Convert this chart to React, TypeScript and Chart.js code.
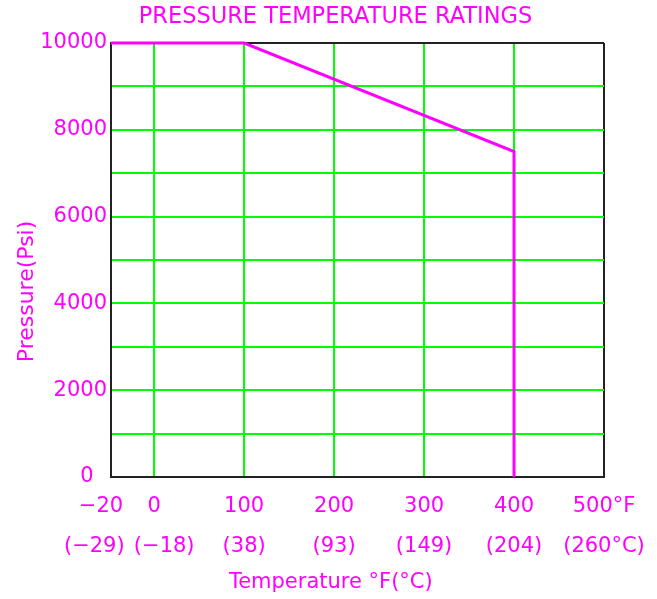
import React, { useEffect, useRef } from 'react';
import { Chart, registerables, LinearScale } from 'chart.js';

// ---- data ----
const chartTitle = 'PRESSURE TEMPERATURE RATINGS';
const yAxisTitle = 'Pressure(Psi)';
const xAxisTitle = 'Temperature °F(°C)';
const tempTicksF = [-20, 0, 100, 200, 300, 400, 500];
const tickLabelsF = ['−20', '0', '100', '200', '300', '400', '500°F'];
const tickLabelsC = ['(−29)', '(−18)', '(38)', '(93)', '(149)', '(204)', '(260°C)'];
const pressureMin = 0;
const pressureMax = 10000;
const pressureStep = 1000;
const pressureLabelEvery = 2000;
const ratingTempF = [-20, 100, 400, 400];
const ratingPsi = [10000, 10000, 7500, 0];

// ---- styles ----
const MAGENTA = '#ff00ff';
const GREEN = '#00ff00';
const BLACK = '#222222';
const FONT = 'DejaVu Sans';
// horizontal nudges of the crowded first labels (in spaces; + = right, - = left)
const nudgeF = [-3, 0, 0, 0, 0, 0, 0];
const nudgeC = [-5, 3, 0, 0, 0, 0, 0];
const nudge = (s: string, n: number) =>
  n < 0 ? s + ' '.repeat(-n) : ' '.repeat(n) + s;

// the sub-zero part of the axis is drawn stretched (as in the original drawing)
const BELOW_ZERO_STRETCH = 2.4;
const warp = (v: number) => (v < 0 ? v * BELOW_ZERO_STRETCH : v);
const unwarp = (w: number) => (w < 0 ? w / BELOW_ZERO_STRETCH : w);

class BrokenLinearScale extends LinearScale {
  static id = 'brokenLinear';
  static defaults = LinearScale.defaults;
  getPixelForValue(value: any) {
    if (value === null || value === undefined || isNaN(value)) return NaN;
    const a = warp(this.min);
    const b = warp(this.max);
    return this.getPixelForDecimal((warp(value) - a) / (b - a));
  }
  getValueForPixel(pixel: number) {
    const a = warp(this.min);
    const b = warp(this.max);
    return unwarp(a + this.getDecimalForPixel(pixel) * (b - a));
  }
}

Chart.register(...registerables, BrokenLinearScale);

export default function App() {
  const ref = useRef<HTMLCanvasElement | null>(null);

  useEffect(() => {
    if (!ref.current) return;
    const chart = new Chart(ref.current, {
      type: 'line',
      data: {
        datasets: [
          {
            data: ratingTempF.map((t, i) => ({ x: t, y: ratingPsi[i] })),
            borderColor: MAGENTA,
            backgroundColor: MAGENTA,
            borderWidth: 3,
            pointRadius: 0,
            tension: 0,
            clip: false as any,
          },
        ],
      },
      options: {
        animation: false,
        responsive: false,
        layout: { padding: { left: 14, right: 0, top: 0, bottom: 0 } },
        plugins: {
          legend: { display: false },
          tooltip: { enabled: false },
          title: {
            display: true,
            text: chartTitle,
            color: MAGENTA,
            font: { family: FONT, size: 22.5, weight: 'normal', lineHeight: 1.2 },
            padding: { top: 4, bottom: 12 },
          },
        },
        scales: {
          x: {
            type: 'brokenLinear' as any,
            min: -20,
            max: 500,
            afterBuildTicks: (s: any) => {
              s.ticks = tempTicksF.map((v) => ({ value: v }));
            },
            afterFit: (s: any) => {
              s.height = 122;
            },
            ticks: {
              autoSkip: false,
              maxRotation: 0,
              color: MAGENTA,
              padding: 10,
              font: { family: FONT, size: 21, lineHeight: 1.88 },
              callback: (_v: any, i: number) => [
                nudge(tickLabelsF[i], nudgeF[i]),
                nudge(tickLabelsC[i], nudgeC[i]),
              ],
            },
            grid: {
              drawTicks: false,
              color: (c: any) =>
                c.tick && (c.tick.value === 500 || c.tick.value === -20) ? BLACK : GREEN,
              lineWidth: 2,
            },
            border: { display: true, color: BLACK, width: 2 },
            title: {
              display: true,
              text: xAxisTitle + '        ',
              color: MAGENTA,
              font: { family: FONT, size: 21, lineHeight: 1.2 },
              padding: { top: 0, bottom: 4 },
            },
          },
          y: {
            min: pressureMin,
            max: pressureMax,
            afterFit: (s: any) => {
              s.width = 97;
            },
            ticks: {
              stepSize: pressureStep,
              color: MAGENTA,
              padding: 4,
              font: { family: FONT, size: 21 },
              callback: (v: any) =>
                v % pressureLabelEvery === 0 ? (v === 0 ? '0  ' : String(v)) : '',
            },
            grid: {
              drawTicks: false,
              color: (c: any) =>
                c.tick && (c.tick.value === pressureMax || c.tick.value === pressureMin) ? BLACK : GREEN,
              lineWidth: 2,
            },
            border: { display: true, color: BLACK, width: 2 },
            title: {
              display: true,
              text: yAxisTitle + '         ',
              color: MAGENTA,
              font: { family: FONT, size: 22, lineHeight: 1.2 },
              padding: { top: 0, bottom: 0 },
            },
          },
          yRight: {
            position: 'right',
            display: true,
            min: 0,
            max: 1,
            grid: { display: false },
            border: { display: false },
            ticks: { display: false },
            afterFit: (s: any) => {
              s.width = 53;
            },
          },
        },
      } as any,
    });
    return () => chart.destroy();
  }, []);

  return (
    <div style={{ position: 'fixed', left: 0, top: 0, width: 657, height: 599, background: '#fff' }}>
      <canvas ref={ref} width={657} height={599} style={{ display: 'block' }} />
    </div>
  );
}
